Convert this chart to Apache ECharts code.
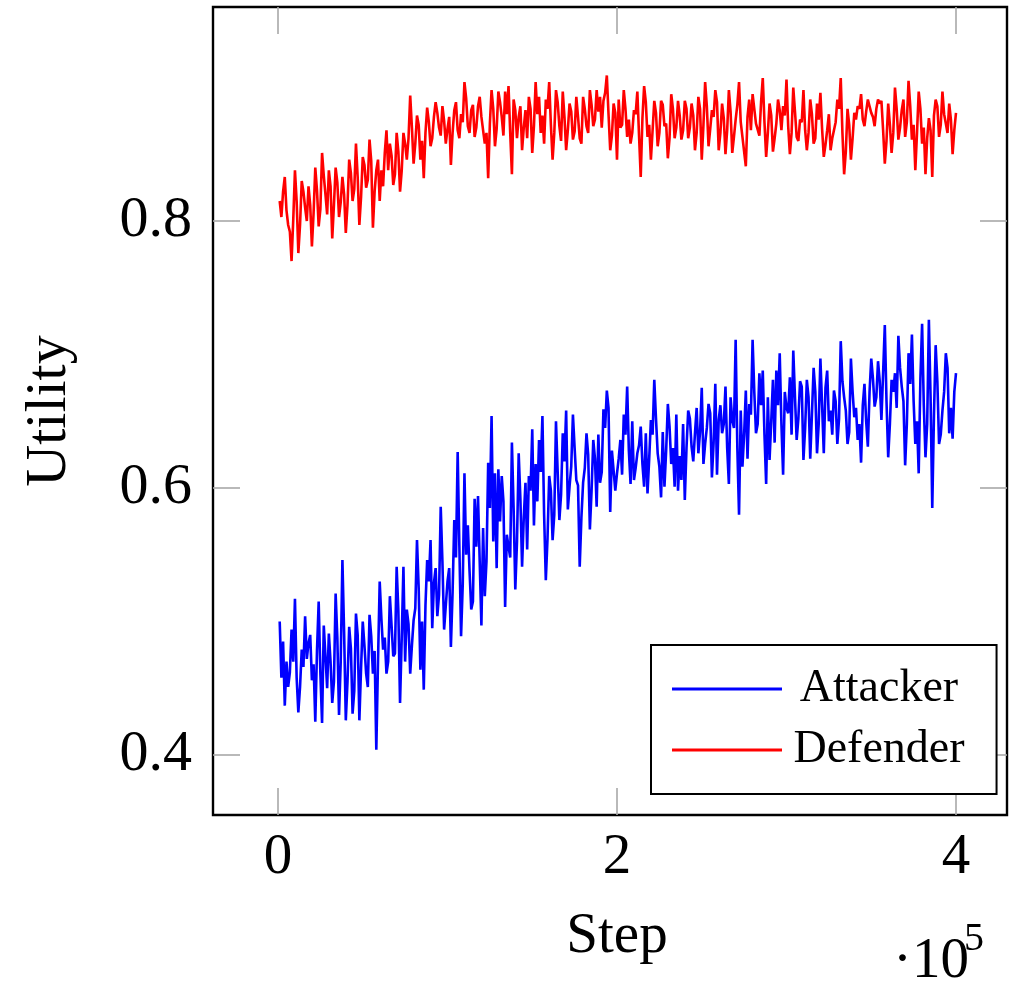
<!DOCTYPE html>
<html>
<head>
<meta charset="utf-8">
<script src="https://cdn.jsdelivr.net/npm/echarts@6/dist/echarts.min.js"></script>
<style>
  html, body { margin: 0; padding: 0; background: #fff; }
  #chart { width: 1020px; height: 981px; }
</style>
</head>
<body>
<div id="chart"></div>
<script>
// Training step in thousands (logged every 1000 steps)
const stepK = [1,2,3,4,5,6,7,8,9,10,11,12,13,14,15,16,17,18,19,20,
21,22,23,24,25,26,27,28,29,30,31,32,33,34,35,36,37,38,39,40,
41,42,43,44,45,46,47,48,49,50,51,52,53,54,55,56,57,58,59,60,
61,62,63,64,65,66,67,68,69,70,71,72,73,74,75,76,77,78,79,80,
81,82,83,84,85,86,87,88,89,90,91,92,93,94,95,96,97,98,99,100,
101,102,103,104,105,106,107,108,109,110,111,112,113,114,115,116,117,118,119,120,
121,122,123,124,125,126,127,128,129,130,131,132,133,134,135,136,137,138,139,140,
141,142,143,144,145,146,147,148,149,150,151,152,153,154,155,156,157,158,159,160,
161,162,163,164,165,166,167,168,169,170,171,172,173,174,175,176,177,178,179,180,
181,182,183,184,185,186,187,188,189,190,191,192,193,194,195,196,197,198,199,200,
201,202,203,204,205,206,207,208,209,210,211,212,213,214,215,216,217,218,219,220,
221,222,223,224,225,226,227,228,229,230,231,232,233,234,235,236,237,238,239,240,
241,242,243,244,245,246,247,248,249,250,251,252,253,254,255,256,257,258,259,260,
261,262,263,264,265,266,267,268,269,270,271,272,273,274,275,276,277,278,279,280,
281,282,283,284,285,286,287,288,289,290,291,292,293,294,295,296,297,298,299,300,
301,302,303,304,305,306,307,308,309,310,311,312,313,314,315,316,317,318,319,320,
321,322,323,324,325,326,327,328,329,330,331,332,333,334,335,336,337,338,339,340,
341,342,343,344,345,346,347,348,349,350,351,352,353,354,355,356,357,358,359,360,
361,362,363,364,365,366,367,368,369,370,371,372,373,374,375,376,377,378,379,380,
381,382,383,384,385,386,387,388,389,390,391,392,393,394,395,396,397,398,399,400];

const attacker = [
0.500,0.458,0.485,0.437,0.470,0.451,0.462,0.494,0.470,0.517,0.458,0.432,0.451,0.479,0.466,0.504,0.472,0.484,0.490,0.456,
0.468,0.425,0.478,0.515,0.461,0.424,0.497,0.474,0.450,0.491,0.470,0.439,0.455,0.521,0.488,0.430,0.470,0.546,0.492,0.426,
0.455,0.496,0.480,0.431,0.448,0.506,0.490,0.426,0.465,0.500,0.482,0.461,0.451,0.505,0.489,0.461,0.478,0.404,0.470,0.530,
0.502,0.479,0.488,0.461,0.470,0.519,0.497,0.474,0.476,0.541,0.508,0.439,0.488,0.541,0.470,0.509,0.498,0.461,0.482,0.501,
0.510,0.561,0.525,0.464,0.500,0.449,0.512,0.546,0.530,0.561,0.495,0.529,0.540,0.504,0.520,0.586,0.545,0.494,0.512,0.530,
0.540,0.481,0.522,0.576,0.548,0.627,0.556,0.489,0.528,0.611,0.550,0.572,0.538,0.509,0.515,0.592,0.556,0.594,0.545,0.497,
0.570,0.519,0.545,0.619,0.585,0.654,0.560,0.611,0.540,0.614,0.575,0.609,0.590,0.511,0.565,0.556,0.548,0.634,0.585,0.524,
0.560,0.626,0.592,0.541,0.578,0.604,0.554,0.609,0.598,0.644,0.572,0.618,0.590,0.636,0.612,0.654,0.580,0.531,0.562,0.609,
0.598,0.561,0.580,0.650,0.612,0.576,0.595,0.641,0.620,0.658,0.584,0.601,0.616,0.655,0.630,0.606,0.602,0.541,0.578,0.604,
0.615,0.641,0.625,0.569,0.598,0.636,0.622,0.586,0.640,0.604,0.612,0.659,0.645,0.673,0.660,0.582,0.628,0.613,0.598,0.611,
0.622,0.636,0.610,0.655,0.640,0.676,0.628,0.603,0.650,0.606,0.615,0.626,0.632,0.646,0.618,0.601,0.641,0.596,0.622,0.651,
0.640,0.681,0.652,0.626,0.616,0.593,0.642,0.601,0.628,0.663,0.646,0.618,0.630,0.601,0.655,0.598,0.624,0.606,0.648,0.591,
0.630,0.658,0.652,0.631,0.620,0.641,0.660,0.626,0.642,0.675,0.618,0.633,0.645,0.663,0.656,0.608,0.634,0.678,0.610,0.651,
0.662,0.641,0.648,0.676,0.630,0.603,0.668,0.651,0.645,0.711,0.630,0.580,0.658,0.616,0.640,0.673,0.622,0.663,0.655,0.711,
0.672,0.641,0.648,0.686,0.662,0.688,0.640,0.603,0.668,0.621,0.650,0.681,0.634,0.688,0.662,0.701,0.648,0.610,0.672,0.660,
0.656,0.683,0.640,0.703,0.668,0.636,0.652,0.680,0.676,0.621,0.645,0.681,0.668,0.622,0.655,0.690,0.672,0.626,0.648,0.697,
0.662,0.626,0.675,0.688,0.650,0.658,0.640,0.673,0.665,0.633,0.652,0.710,0.680,0.668,0.658,0.633,0.642,0.697,0.672,0.653,
0.660,0.636,0.648,0.619,0.662,0.678,0.650,0.631,0.672,0.697,0.682,0.661,0.668,0.695,0.680,0.651,0.650,0.722,0.665,0.623,
0.648,0.681,0.672,0.686,0.660,0.714,0.690,0.676,0.665,0.617,0.648,0.701,0.678,0.715,0.665,0.633,0.650,0.611,0.682,0.723,
0.662,0.623,0.648,0.726,0.668,0.585,0.655,0.707,0.680,0.633,0.640,0.658,0.672,0.701,0.690,0.641,0.660,0.637,0.672,0.686];

const defender = [
0.815,0.803,0.822,0.833,0.808,0.797,0.792,0.770,0.801,0.838,0.815,0.776,0.797,0.830,0.822,0.810,0.800,0.826,0.812,0.781,
0.806,0.840,0.823,0.796,0.809,0.851,0.834,0.820,0.805,0.838,0.826,0.787,0.812,0.840,0.829,0.803,0.814,0.833,0.820,0.791,
0.812,0.846,0.836,0.815,0.824,0.858,0.833,0.797,0.818,0.848,0.842,0.825,0.831,0.861,0.845,0.795,0.822,0.838,0.846,0.815,
0.838,0.826,0.851,0.868,0.838,0.858,0.849,0.827,0.835,0.866,0.852,0.822,0.838,0.866,0.858,0.846,0.862,0.894,0.870,0.843,
0.858,0.879,0.872,0.846,0.860,0.832,0.866,0.885,0.874,0.856,0.862,0.878,0.889,0.881,0.870,0.864,0.886,0.875,0.858,0.869,
0.878,0.842,0.866,0.883,0.889,0.868,0.862,0.880,0.874,0.904,0.892,0.871,0.866,0.883,0.887,0.863,0.870,0.886,0.893,0.878,
0.877,0.858,0.866,0.832,0.873,0.898,0.884,0.856,0.869,0.897,0.889,0.878,0.864,0.897,0.880,0.901,0.866,0.835,0.891,0.883,
0.862,0.878,0.886,0.853,0.870,0.883,0.862,0.893,0.884,0.851,0.871,0.904,0.880,0.893,0.866,0.879,0.858,0.891,0.884,0.904,
0.872,0.846,0.866,0.898,0.889,0.871,0.860,0.897,0.878,0.853,0.868,0.888,0.882,0.861,0.867,0.893,0.878,0.862,0.858,0.893,
0.884,0.871,0.866,0.898,0.887,0.871,0.876,0.898,0.882,0.893,0.870,0.890,0.896,0.909,0.880,0.853,0.864,0.888,0.881,0.846,
0.891,0.870,0.872,0.898,0.884,0.863,0.876,0.858,0.866,0.883,0.880,0.897,0.864,0.833,0.877,0.901,0.889,0.863,0.872,0.846,
0.868,0.890,0.881,0.856,0.866,0.890,0.887,0.871,0.873,0.847,0.862,0.895,0.884,0.862,0.870,0.890,0.879,0.861,0.868,0.890,
0.884,0.862,0.870,0.888,0.879,0.853,0.866,0.893,0.884,0.846,0.872,0.904,0.886,0.856,0.869,0.883,0.878,0.898,0.889,0.853,
0.866,0.888,0.877,0.850,0.868,0.898,0.882,0.851,0.863,0.876,0.887,0.904,0.874,0.863,0.862,0.841,0.878,0.891,0.868,0.895,
0.884,0.873,0.872,0.864,0.889,0.907,0.874,0.848,0.866,0.888,0.879,0.852,0.862,0.873,0.891,0.883,0.868,0.886,0.879,0.906,
0.871,0.850,0.866,0.900,0.882,0.863,0.860,0.876,0.874,0.898,0.868,0.853,0.866,0.891,0.880,0.858,0.862,0.888,0.876,0.896,
0.869,0.848,0.857,0.868,0.880,0.853,0.862,0.868,0.874,0.891,0.884,0.907,0.866,0.835,0.852,0.884,0.872,0.846,0.862,0.881,
0.876,0.886,0.884,0.895,0.876,0.871,0.882,0.891,0.886,0.881,0.878,0.871,0.884,0.891,0.888,0.890,0.868,0.843,0.860,0.888,
0.872,0.851,0.866,0.900,0.884,0.861,0.870,0.883,0.891,0.863,0.874,0.905,0.886,0.861,0.872,0.838,0.866,0.897,0.884,0.858,
0.870,0.835,0.862,0.877,0.868,0.833,0.879,0.891,0.886,0.863,0.872,0.897,0.880,0.873,0.866,0.888,0.876,0.850,0.868,0.881];

const xTicks = [0, 200000, 400000];
const yTicks = [0.4, 0.6, 0.8];
const seriesNames = ['Attacker', 'Defender'];

const FONT = '"Liberation Serif", "Times New Roman", serif';
const toPairs = vals => vals.map((v, i) => [stepK[i] * 1000, v]);

const tickStyle = { color: '#a8a8a8', width: 1.6 };
const xRange = { min: -38350, max: 430090 };
const yRange = { min: 0.3551, max: 0.9603 };
const noLine = { show: false, onZero: false };

const chart = echarts.init(document.getElementById('chart'), null, { renderer: 'canvas' });
chart.setOption({
  animation: false,
  backgroundColor: '#ffffff',
  grid: {
    left: 213, right: 13, top: 7, bottom: 166,
    show: true, borderColor: '#000', borderWidth: 2.4, backgroundColor: 'transparent'
  },
  legend: {
    data: seriesNames,
    orient: 'vertical',
    left: 651, top: 645,
    padding: [21, 32, 21, 21],
    itemGap: 15,
    itemWidth: 110,
    itemHeight: 3,
    icon: 'rect',
    backgroundColor: '#fff',
    borderColor: '#000',
    borderWidth: 2,
    formatter: '{n|{name}}',
    textStyle: {
      color: '#000', fontFamily: FONT, fontSize: 46,
      rich: { n: { width: 184, align: 'center', fontFamily: FONT, fontSize: 46, color: '#000' } }
    }
  },
  xAxis: [
    {
      type: 'value', position: 'bottom', ...xRange,
      name: 'Step', nameLocation: 'middle', nameGap: 94,
      nameTextStyle: { fontFamily: FONT, fontSize: 57, color: '#000', lineHeight: 57, padding: [0, 0, 0, 14] },
      axisLine: noLine,
      axisTick: { show: true, inside: true, length: 27, lineStyle: tickStyle, customValues: xTicks },
      axisLabel: {
        show: true, customValues: xTicks, margin: 15,
        fontFamily: FONT, fontSize: 57, color: '#000', lineHeight: 57,
        formatter: v => String(Math.round(v / 100000))
      },
      splitLine: { show: false }
    },
    {
      type: 'value', position: 'top', ...xRange,
      axisLine: noLine,
      axisTick: { show: true, inside: true, length: 27, lineStyle: tickStyle, customValues: xTicks },
      axisLabel: { show: false },
      splitLine: { show: false }
    }
  ],
  yAxis: [
    {
      type: 'value', position: 'left', ...yRange,
      name: 'Utility', nameLocation: 'middle', nameGap: 134,
      nameTextStyle: { fontFamily: FONT, fontSize: 58, color: '#000', lineHeight: 58 },
      axisLine: noLine,
      axisTick: { show: true, inside: true, length: 27, lineStyle: tickStyle, customValues: yTicks },
      axisLabel: {
        show: true, customValues: yTicks, margin: 21,
        fontFamily: FONT, fontSize: 58, color: '#000', lineHeight: 58,
        formatter: v => v.toFixed(1)
      },
      splitLine: { show: false }
    },
    {
      type: 'value', position: 'right', ...yRange,
      axisLine: noLine,
      axisTick: { show: true, inside: true, length: 27, lineStyle: tickStyle, customValues: yTicks },
      axisLabel: { show: false },
      splitLine: { show: false }
    }
  ],
  graphic: [
    { type: 'text', left: 893, top: 934, style: { text: '·10', font: '57px ' + FONT, fill: '#000' } },
    { type: 'text', left: 964, top: 919, style: { text: '5', font: '40px ' + FONT, fill: '#000' } }
  ],
  series: [
    {
      name: 'Attacker', type: 'line', xAxisIndex: 0, yAxisIndex: 0,
      data: toPairs(attacker), showSymbol: false, symbol: 'none',
      lineStyle: { color: '#0000ff', width: 2.6 }, itemStyle: { color: '#0000ff' }, z: 3
    },
    {
      name: 'Defender', type: 'line', xAxisIndex: 0, yAxisIndex: 0,
      data: toPairs(defender), showSymbol: false, symbol: 'none',
      lineStyle: { color: '#ff0000', width: 2.6 }, itemStyle: { color: '#ff0000' }, z: 3
    }
  ]
});
</script>
</body>
</html>
